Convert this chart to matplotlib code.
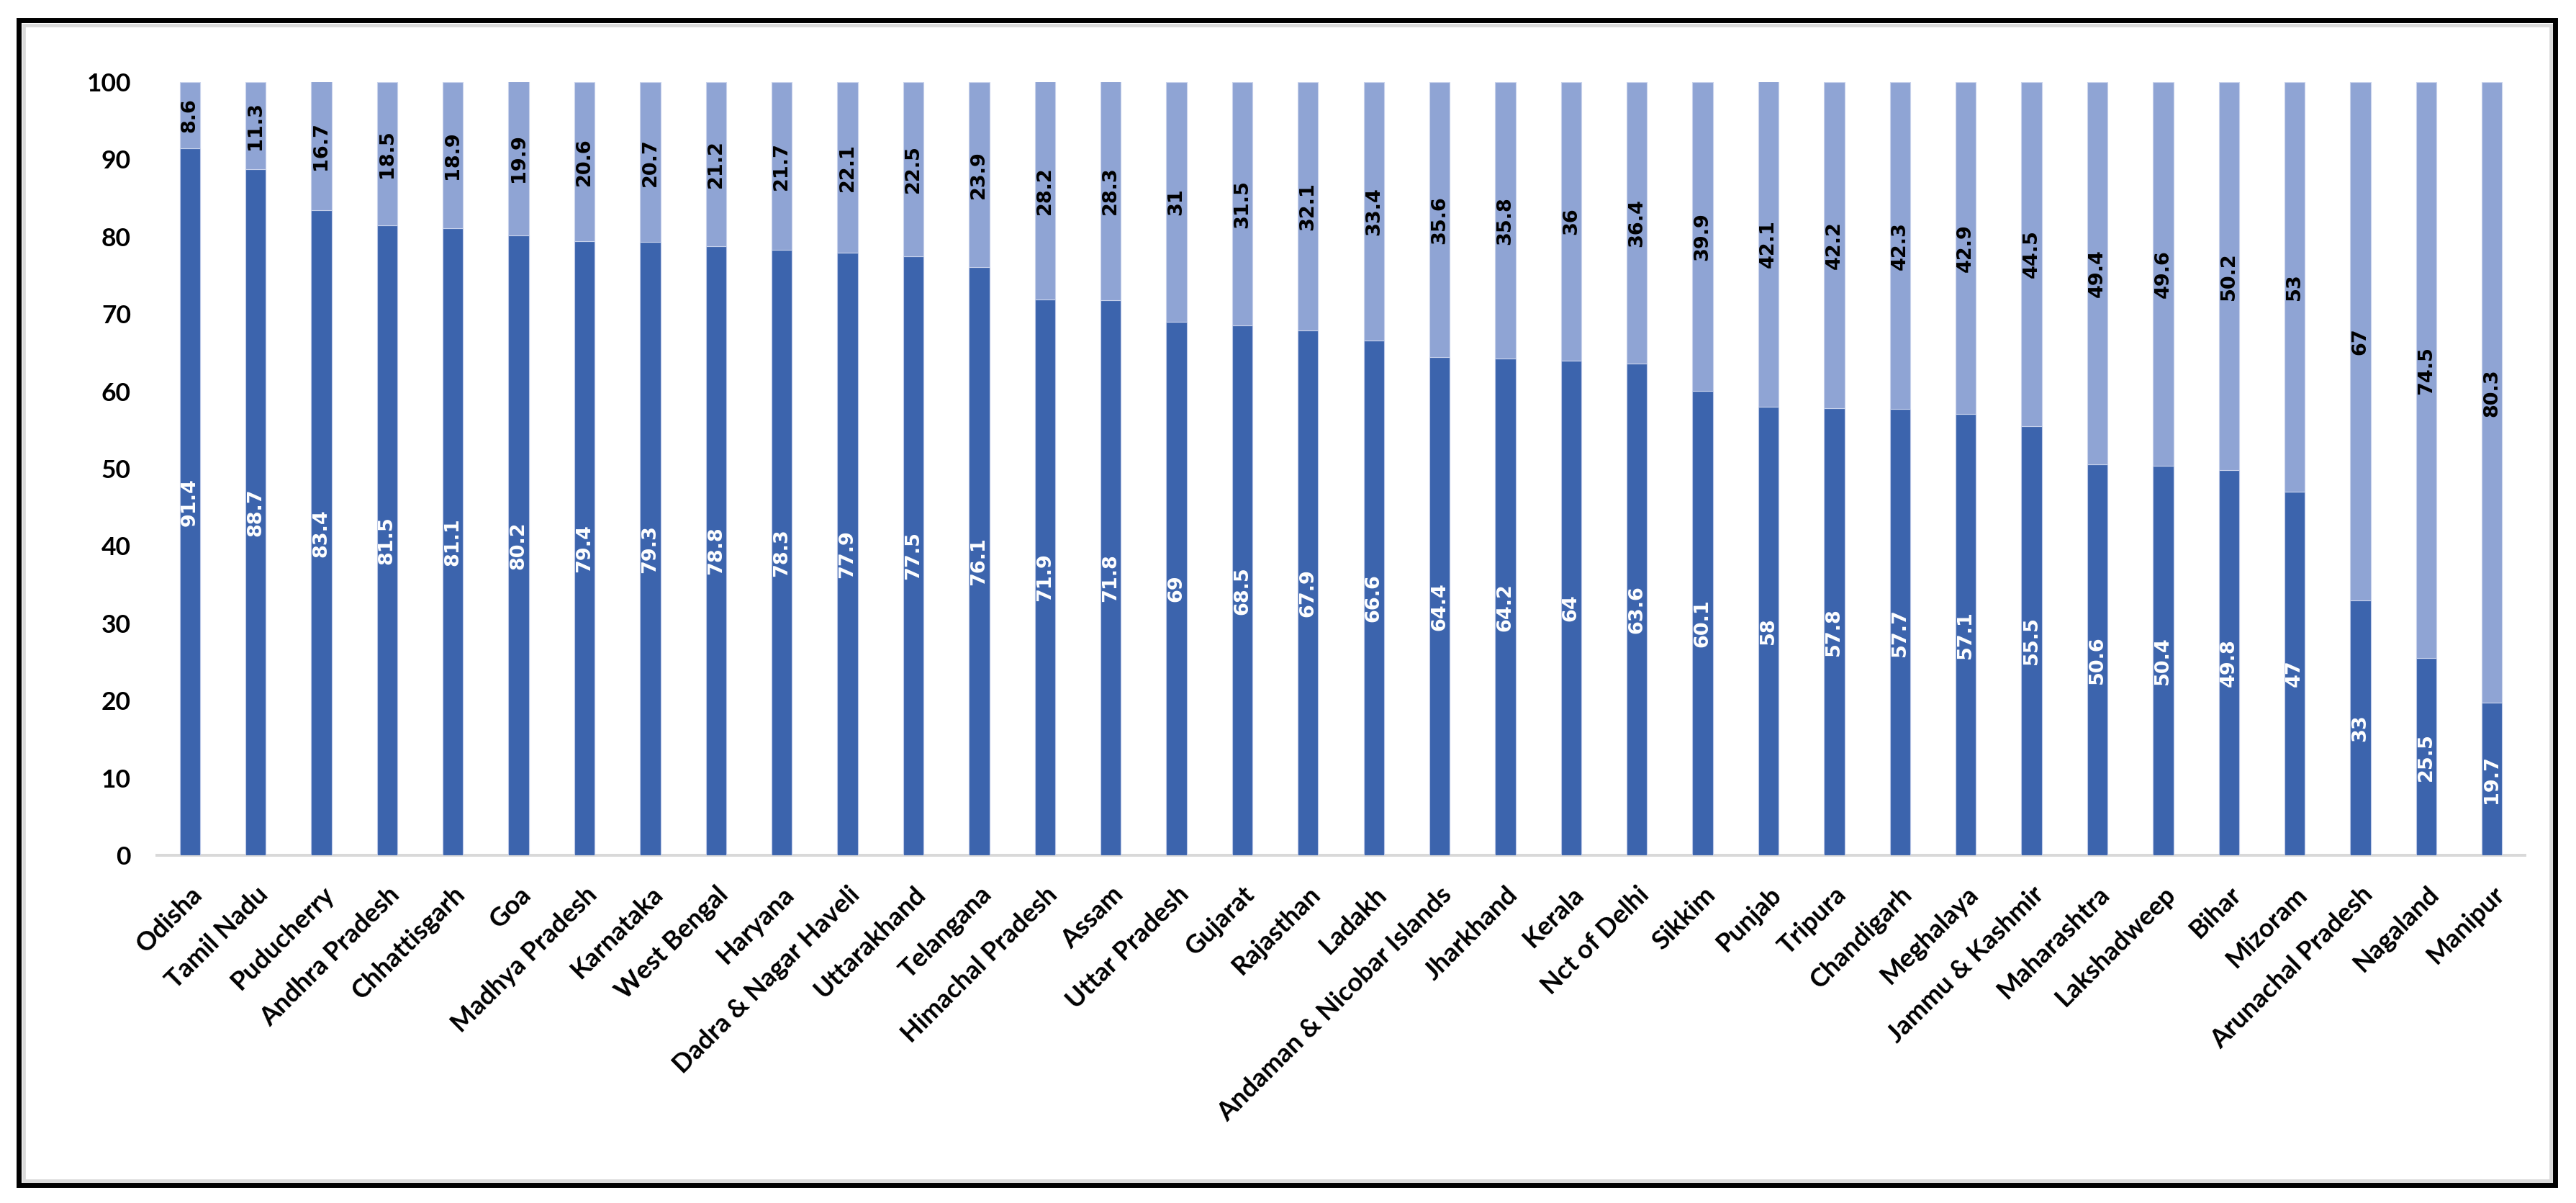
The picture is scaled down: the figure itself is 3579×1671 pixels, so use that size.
import matplotlib
matplotlib.use("Agg")
import matplotlib.pyplot as plt
from matplotlib.patches import Rectangle
import numpy as np

states = ["Odisha", "Tamil Nadu", "Puducherry", "Andhra Pradesh", "Chhattisgarh", "Goa",
          "Madhya Pradesh", "Karnataka", "West Bengal", "Haryana", "Dadra & Nagar Haveli",
          "Uttarakhand", "Telangana", "Himachal Pradesh", "Assam", "Uttar Pradesh", "Gujarat",
          "Rajasthan", "Ladakh", "Andaman & Nicobar Islands", "Jharkhand", "Kerala",
          "Nct of Delhi", "Sikkim", "Punjab", "Tripura", "Chandigarh", "Meghalaya",
          "Jammu & Kashmir", "Maharashtra", "Lakshadweep", "Bihar", "Mizoram",
          "Arunachal Pradesh", "Nagaland", "Manipur"]

lower_values = [91.4, 88.7, 83.4, 81.5, 81.1, 80.2, 79.4, 79.3, 78.8, 78.3, 77.9, 77.5,
                76.1, 71.9, 71.8, 69, 68.5, 67.9, 66.6, 64.4, 64.2, 64, 63.6, 60.1,
                58, 57.8, 57.7, 57.1, 55.5, 50.6, 50.4, 49.8, 47, 33, 25.5, 19.7]

upper_values = [8.6, 11.3, 16.7, 18.5, 18.9, 19.9, 20.6, 20.7, 21.2, 21.7, 22.1, 22.5,
                23.9, 28.2, 28.3, 31, 31.5, 32.1, 33.4, 35.6, 35.8, 36, 36.4, 39.9,
                42.1, 42.2, 42.3, 42.9, 44.5, 49.4, 49.6, 50.2, 53, 67, 74.5, 80.3]

y_ticks = [0, 10, 20, 30, 40, 50, 60, 70, 80, 90, 100]

DARK = "#3C64AD"
LIGHT = "#8FA4D4"
W, H = 3580, 1671
fig = plt.figure(figsize=(W / 100, H / 100), dpi=100)
fig.patch.set_facecolor("white")

ax = fig.add_axes([218 / W, (H - 1188) / H, (3508 - 218) / W, (1188 - 114) / H])

x = np.arange(len(states))
lower = np.array(lower_values, dtype=float)
upper = np.array(upper_values, dtype=float)
bw = 0.31
ax.bar(x, lower, width=bw, color=DARK, edgecolor="#B9C6E6", linewidth=0.8, zorder=2)
ax.bar(x, upper, width=bw, bottom=lower, color=LIGHT, edgecolor="#C9D3EC", linewidth=0.8, zorder=2)

lab_font = dict(family="DejaVu Sans", fontsize=19.5, fontweight="bold", rotation=90,
                ha="center", va="center", zorder=3)
for xi, lo, up in zip(x, lower, upper):
    ax.text(xi, lo / 2, f"{lo:g}", color="white", **lab_font)
    ax.text(xi, lo + up / 2, f"{up:g}", color="black", **lab_font)

ax.set_xlim(-0.5, len(states) - 0.5)
ax.set_ylim(0, 100)
ax.set_yticks(y_ticks)
ax.set_yticklabels([str(t) for t in y_ticks], fontsize=25.5, fontweight="bold", family="Lato")
ax.set_xticks(x)
ax.set_xticklabels(states, rotation=45, ha="right", rotation_mode="anchor",
                   fontsize=26, fontweight="bold", family="Lato")
ax.tick_params(axis="both", length=0)
ax.tick_params(axis="y", pad=26)
ax.tick_params(axis="x", pad=27)
for s in ["top", "right", "left"]:
    ax.spines[s].set_visible(False)
ax.spines["bottom"].set_color("#D9D9D9")
ax.spines["bottom"].set_linewidth(2.9)
ax.spines["bottom"].set_zorder(1)
ax.set_facecolor("white")

# chart frame: black outer border with light grey inner line
fig.add_artist(Rectangle((26.5 / W, 25 / H), (3550 - 26.5) / W, (1642.5 - 25) / H,
                         transform=fig.transFigure, fill=False, edgecolor="black",
                         linewidth=5.0, joinstyle="miter"))
fig.add_artist(Rectangle((33 / W, 31 / H), (3544 - 33) / W, (1636 - 31) / H,
                         transform=fig.transFigure, fill=False, edgecolor="#DADADA",
                         linewidth=3.4, joinstyle="miter"))

fig.savefig("out.png", dpi=100, facecolor="white")
